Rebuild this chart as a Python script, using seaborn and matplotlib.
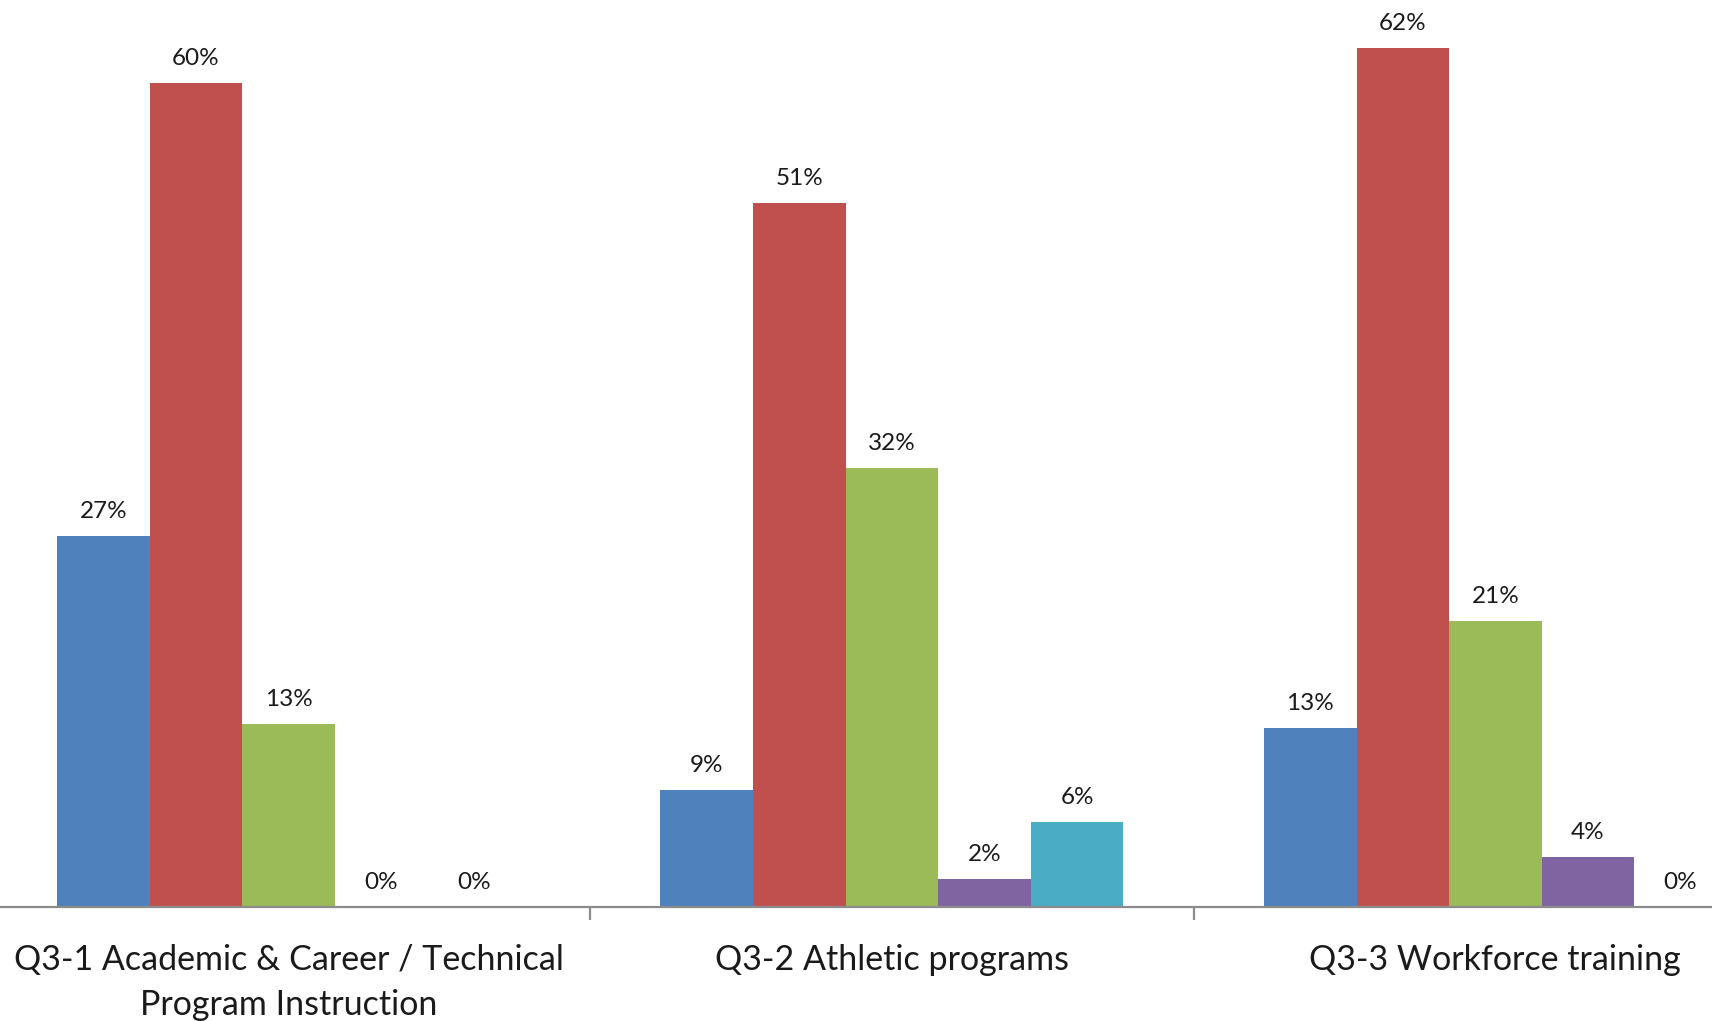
import numpy as np
import pandas as pd
import seaborn as sns
import matplotlib.pyplot as plt

categories = ["Q3-1 Academic & Career / Technical\nProgram Instruction",
              "Q3-2 Athletic programs",
              "Q3-3 Workforce training"]
series = ["Series 1", "Series 2", "Series 3", "Series 4", "Series 5"]

s1 = [27.0, 8.5, 13.0]
s2 = [60.0, 51.3, 62.6]
s3 = [13.3, 32.0, 20.8]
s4 = [0.0, 2.0, 3.6]
s5 = [0.0, 6.2, 0.0]

lab1 = ["27%", "9%", "13%"]
lab2 = ["60%", "51%", "62%"]
lab3 = ["13%", "32%", "21%"]
lab4 = ["0%", "2%", "4%"]
lab5 = ["0%", "6%", "0%"]

colors = ["#4F81BD", "#C0504D", "#9BBB59", "#8064A2", "#4BACC6"]

rows = []
for name, vals in zip(series, [s1, s2, s3, s4, s5]):
    for c, v in zip(categories, vals):
        rows.append({"category": c, "series": name, "value": v})
df = pd.DataFrame(rows)

sns.set_theme(style="white")
plt.rcParams['font.family'] = ['Lato', 'DejaVu Sans']

fig = plt.figure(figsize=(17.12, 10.21), dpi=100)
ax = fig.add_axes([0, 0.112, 1, 0.888])
sns.barplot(data=df, x="category", y="value", hue="series", order=categories,
            hue_order=series, palette=colors, width=0.767, gap=0, linewidth=0,
            saturation=1, errorbar=None, legend=False, ax=ax)

ax.set_xlim(-0.478, 2.359)
ax.set_ylim(0, 66.07)
for s in ["top", "left", "right"]:
    ax.spines[s].set_visible(False)
ax.spines["bottom"].set_color("#8c8c8c")
ax.spines["bottom"].set_linewidth(1.6)
ax.set_yticks([])
ax.set_xlabel("")
ax.set_ylabel("")
ax.tick_params(axis="x", which="major", length=0, pad=27, labelsize=24.5,
               labelcolor="#1a1a1a")
ax.set_xticks([0.5, 1.5], minor=True)
ax.tick_params(axis="x", which="minor", length=9, width=1.6, color="#8c8c8c",
               direction="out", bottom=True)
for t in ax.get_xticklabels():
    t.set_multialignment("center")
    t.set_linespacing(1.5)

for cont, labs in zip(ax.containers, [lab1, lab2, lab3, lab4, lab5]):
    ax.bar_label(cont, labels=labs, padding=10, fontsize=17.5, color="#1a1a1a")

fig.savefig("out.png", dpi=100, facecolor="white")
